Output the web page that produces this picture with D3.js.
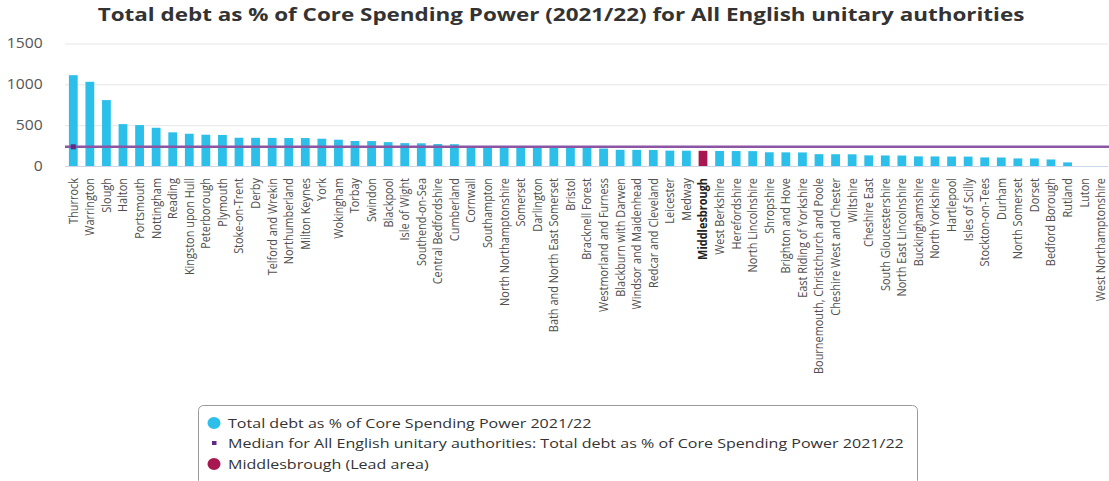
<!DOCTYPE html>
<html><head><meta charset="utf-8">
<script src="https://cdn.jsdelivr.net/npm/d3@7"></script>
<style>
html,body{margin:0;padding:0;background:#fff;}
svg{display:block;font-family:"Open Sans",sans-serif;}
</style></head>
<body><svg id="c" width="1109" height="481"></svg>
<script>
const categories = ["Thurrock","Warrington","Slough","Halton","Portsmouth","Nottingham","Reading","Kingston upon Hull","Peterborough","Plymouth","Stoke-on-Trent","Derby","Telford and Wrekin","Northumberland","Milton Keynes","York","Wokingham","Torbay","Swindon","Blackpool","Isle of Wight","Southend-on-Sea","Central Bedfordshire","Cumberland","Cornwall","Southampton","North Northamptonshire","Somerset","Darlington","Bath and North East Somerset","Bristol","Bracknell Forest","Westmorland and Furness","Blackburn with Darwen","Windsor and Maidenhead","Redcar and Cleveland","Leicester","Medway","Middlesbrough","West Berkshire","Herefordshire","North Lincolnshire","Shropshire","Brighton and Hove","East Riding of Yorkshire","Bournemouth, Christchurch and Poole","Cheshire West and Chester","Wiltshire","Cheshire East","South Gloucestershire","North East Lincolnshire","Buckinghamshire","North Yorkshire","Hartlepool","Isles of Scilly","Stockton-on-Tees","Durham","North Somerset","Dorset","Bedford Borough","Rutland","Luton","West Northamptonshire"];
const debtValues = [1112,1031,807,513,501,468,412,395,383,380,346,345,344,343,342,334,322,306,305,292,280,278,269,267,242,240,238,236,235,233,230,226,214,198,197,196,188,187,186,184,183,182,168,167,166,145,144,143,130,129,128,118,117,116,115,105,104,93,92,80,44,null,null];
const medianValue = 235;
const leadArea = "Middlesbrough";
const yTicks = [0,500,1000,1500];
const titleText = "Total debt as % of Core Spending Power (2021/22) for All English unitary authorities";
const legendLabels = ["Total debt as % of Core Spending Power 2021/22","Median for All English unitary authorities: Total debt as % of Core Spending Power 2021/22","Middlesbrough (Lead area)"];

const BLUE="#2bbfe9", LEAD="#a8174f", MED="#8b55a3", MEDMARK="#5e2a83";
const svg = d3.select("#c");
const pL=65, pR=1109, pT=43.5, pB=166;

svg.append("text").attr("transform","translate(561,21) scale(1.32,1)").attr("text-anchor","middle")
  .attr("font-size","17px").attr("font-weight","bold").attr("fill","#333")
  .text(titleText);

const x = d3.scaleBand().domain(categories).range([pL,pR]).paddingInner(0.47).paddingOuter(0.235);
const y = d3.scaleLinear().domain([0,1500]).range([pB,pT]);

// grid
const gy = svg.append("g").attr("transform",`translate(${pL},0)`)
  .call(d3.axisLeft(y).tickValues(yTicks).tickFormat(d3.format("d")).tickSize(-(1108-pL)).tickPadding(20));
gy.select(".domain").remove();
gy.selectAll(".tick line").attr("stroke",d=>d===0?"#ccd6eb":"#e6e6e6");
gy.selectAll(".tick text").attr("font-size","14px").attr("fill","#555").attr("font-family","Open Sans")
  .attr("dy","0.32em").attr("transform","scale(1.12,1)");

// bars
svg.append("g").selectAll("rect").data(categories.map((c,i)=>({c,v:debtValues[i]})).filter(d=>d.v!=null))
  .join("rect")
  .attr("x",d=>x(d.c)).attr("width",x.bandwidth())
  .attr("y",d=>y(d.v)).attr("height",d=>y(0)-y(d.v))
  .attr("fill",d=>d.c===leadArea?LEAD:BLUE);

// median line
svg.append("line").attr("x1",pL).attr("x2",1109).attr("y1",y(medianValue)).attr("y2",y(medianValue))
  .attr("stroke",MED).attr("stroke-width",2.5);
svg.append("rect").attr("x",x(categories[0])+x.bandwidth()/2-2.5).attr("y",y(medianValue)-2.5)
  .attr("width",5).attr("height",5).attr("fill",MEDMARK);

// x labels
const gx = svg.append("g").attr("transform",`translate(0,${pB})`)
  .call(d3.axisBottom(x).tickSize(0).tickPadding(0));
gx.select(".domain").remove();
gx.selectAll(".tick text")
  .attr("text-anchor","end").attr("font-family","Open Sans").attr("font-size","12.5px")
  .attr("fill",d=>d===leadArea?"#222":"#505050")
  .attr("font-weight",d=>d===leadArea?"bold":"normal")
  .attr("transform","translate(0,12) rotate(-90) scale(0.875,1)")
  .attr("x",0).attr("y",0).attr("dy","0.35em");

// legend
const lg = svg.append("g");
lg.append("rect").attr("x",198.5).attr("y",405.5).attr("width",719).attr("height",80).attr("rx",5)
  .attr("fill","#fff").attr("stroke","#999");
const rows=[423,443,464];
lg.append("ellipse").attr("cx",214).attr("cy",rows[0]).attr("rx",6.5).attr("ry",6).attr("fill",BLUE);
lg.append("rect").attr("x",212).attr("y",rows[1]-2).attr("width",4.5).attr("height",4).attr("fill",MEDMARK);
lg.append("ellipse").attr("cx",214).attr("cy",rows[2]).attr("rx",6.5).attr("ry",6).attr("fill",LEAD);
legendLabels.forEach((t,i)=>{
  lg.append("text").attr("transform",`translate(228,${rows[i]}) scale(1.19,1)`).attr("dy","0.35em")
    .attr("font-size","13.5px").attr("fill","#333").text(t);
});
</script></body></html>
